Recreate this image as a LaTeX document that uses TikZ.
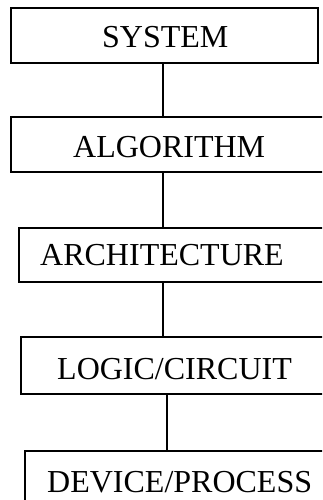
\documentclass[tikz,border=0pt]{standalone}
\usepackage{fontspec}
\setmainfont{Liberation Serif}
\begin{document}
\begin{tikzpicture}[x=1pt,y=-1pt,
  box/.style={draw=black,line width=1.6pt,inner sep=0pt,fill=white},
  lbl/.style={anchor=base west,inner sep=0pt,font=\fontsize{32}{38}\selectfont},
  conn/.style={draw=black,line width=1.6pt}]
\useasboundingbox (0,0) rectangle (322,500);
\clip (0,0) rectangle (322,500);
% boxes
\node[box,minimum width=307pt,minimum height=55pt] (b1) at (164.5,35.5) {};
\node[box,minimum width=320pt,minimum height=55pt] (b2) at (171,144.5) {};
\node[box,minimum width=312pt,minimum height=54pt] (b3) at (175,255) {};
\node[box,minimum width=310pt,minimum height=57pt] (b4) at (176,365.5) {};
\node[box,minimum width=310pt,minimum height=60pt] (b5) at (180,481) {};
% connectors
\coordinate (c1) at (163,0);
\coordinate (c4) at (167,0);
\draw[conn] (b1.south -| c1) -- (b2.north -| c1);
\draw[conn] (b2.south -| c1) -- (b3.north -| c1);
\draw[conn] (b3.south -| c1) -- (b4.north -| c1);
\draw[conn] (b4.south -| c4) -- (b5.north -| c4);
% labels
\node[lbl] (t1) at (102,48) {SYSTEM};
\node[lbl] (t2) at (73,157) {ALGORITHM};
\node[lbl] (t3) at (40,265) {ARCHITECTURE};
\node[lbl] (t4) at (57,379) {LOGIC/CIRCUIT};
\node[lbl] (t5) at (47,492) {DEVICE/PROCESS};
\end{tikzpicture}
\end{document}
